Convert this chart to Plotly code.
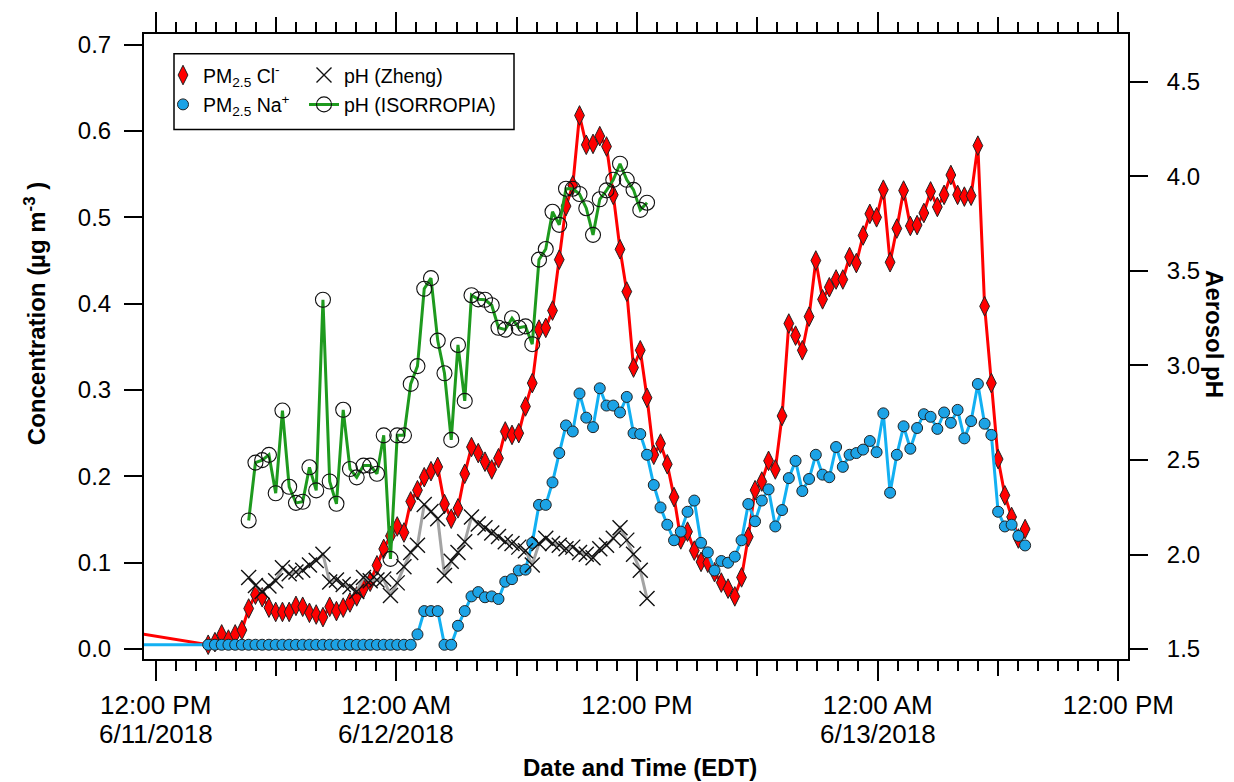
import pandas as pd
import plotly.graph_objects as go

# ---------------- data ----------------
t_start = "2018-06-11 14:37"
step_seconds = 1212          # ~20 min sampling
lead_time = "2018-06-11 08:00"   # earlier point left of the axis range
cl_lead = 0.030
na_lead = 0.005

cl = [0.005, 0.008, 0.017, 0.011, 0.017, 0.022, 0.047, 0.063, 0.060, 0.048,
      0.043, 0.043, 0.043, 0.050, 0.049, 0.042, 0.040, 0.037, 0.049, 0.044,
      0.048, 0.054, 0.061, 0.070, 0.078, 0.097, 0.116, 0.131, 0.142, 0.135,
      0.171, 0.184, 0.199, 0.206, 0.211, 0.168, 0.151, 0.163, 0.203, 0.234,
      0.227, 0.217, 0.208, 0.221, 0.252, 0.248, 0.250, 0.281, 0.308, 0.370,
      0.372, 0.392, 0.451, 0.513, 0.537, 0.618, 0.584, 0.585, 0.594, 0.582,
      0.526, 0.463, 0.414, 0.326, 0.346, 0.291, 0.225, 0.238, 0.214, 0.176,
      0.127, 0.136, 0.114, 0.101, 0.100, 0.089, 0.077, 0.070, 0.061, 0.083,
      0.130, 0.184, 0.194, 0.218, 0.208, 0.270, 0.377, 0.363, 0.346, 0.385,
      0.450, 0.405, 0.419, 0.428, 0.428, 0.454, 0.447, 0.479, 0.504, 0.500,
      0.532, 0.448, 0.487, 0.531, 0.490, 0.491, 0.505, 0.530, 0.512, 0.526,
      0.549, 0.526, 0.524, 0.525, 0.583, 0.397, 0.308, 0.220, 0.178, 0.153,
      0.128, 0.139]

na = [0.005, 0.005, 0.005, 0.005, 0.005, 0.005, 0.005, 0.005, 0.005, 0.005,
      0.005, 0.005, 0.005, 0.005, 0.005, 0.005, 0.005, 0.005, 0.005, 0.005,
      0.005, 0.005, 0.005, 0.005, 0.005, 0.005, 0.005, 0.005, 0.005, 0.005,
      0.005, 0.017, 0.044, 0.044, 0.044, 0.005, 0.005, 0.027, 0.044, 0.061,
      0.066, 0.060, 0.061, 0.058, 0.078, 0.081, 0.091, 0.092, 0.123, 0.167,
      0.167, 0.193, 0.227, 0.259, 0.252, 0.296, 0.268, 0.257, 0.302, 0.282,
      0.282, 0.274, 0.292, 0.250, 0.249, 0.225, 0.190, 0.164, 0.144, 0.126,
      0.136, 0.159, 0.172, 0.123, 0.112, 0.091, 0.102, 0.100, 0.107, 0.126,
      0.168, 0.148, 0.172, 0.185, 0.142, 0.161, 0.198, 0.218, 0.183, 0.197,
      0.225, 0.202, 0.199, 0.234, 0.211, 0.225, 0.227, 0.231, 0.241, 0.228,
      0.273, 0.181, 0.225, 0.258, 0.232, 0.256, 0.272, 0.269, 0.255, 0.274,
      0.262, 0.277, 0.244, 0.264, 0.307, 0.261, 0.248, 0.159, 0.142, 0.144,
      0.131, 0.120]

ph_first_index = 6   # pH series start at the 7th sample
ph_zheng = [1.879, 1.836, 1.804, 1.833, 1.861, 1.930, 1.898, 1.908, 1.917, 1.945,
            1.968, 2.001, 1.855, 1.865, 1.842, 1.829, 1.804, 1.879, 1.861, 1.865,
            1.870, 1.783, 1.850, 1.935, 2.011, 2.049, 2.264, 2.227, 2.189, 1.889,
            1.964, 2.011, 2.067, 2.198, 2.161, 2.142, 2.114, 2.095, 2.067, 2.058,
            2.039, 2.020, 1.945, 2.058, 2.086, 2.058, 2.049, 2.030, 2.039, 2.011,
            2.001, 1.983, 2.030, 2.049, 2.086, 2.142, 2.076, 2.001, 1.917, 1.767]

ph_isorropia = [2.180, 2.486, 2.499, 2.527, 2.324, 2.761, 2.358, 2.273, 2.279, 2.461,
                2.339, 3.347, 2.386, 2.268, 2.765, 2.452, 2.408, 2.470, 2.470, 2.427,
                2.630, 1.977, 2.630, 2.630, 2.902, 2.996, 3.405, 3.461, 3.131, 2.958,
                2.606, 3.108, 2.812, 3.371, 3.349, 3.347, 3.318, 3.199, 3.189, 3.249,
                3.199, 3.206, 3.112, 3.559, 3.615, 3.812, 3.743, 3.934, 3.934, 3.906,
                3.831, 3.690, 3.878, 3.925, 3.981, 4.066, 3.981, 3.928, 3.822, 3.860]

major_tick_times = ["2018-06-11 12:00", "2018-06-12 00:00", "2018-06-12 12:00",
                    "2018-06-13 00:00", "2018-06-13 12:00"]
major_tick_text = ["12:00 PM", "12:00 AM", "12:00 PM", "12:00 AM", "12:00 PM"]
date_tick_times = ["2018-06-11 12:00", "2018-06-12 00:00", "2018-06-13 00:00"]
date_tick_text = ["6/11/2018", "6/12/2018", "6/13/2018"]
mid_tick_times = ["2018-06-11 18:00", "2018-06-12 06:00",
                  "2018-06-12 18:00", "2018-06-13 06:00"]
conc_ticks = [0.0, 0.1, 0.2, 0.3, 0.4, 0.5, 0.6, 0.7]
ph_ticks = [1.5, 2.0, 2.5, 3.0, 3.5, 4.0, 4.5]

x_range = ["2018-06-11 11:25", "2018-06-13 12:29"]
y_range = [-0.0115, 0.7123]
y2_range = [1.4475, 4.752]

# ---------------- build ----------------
times = list(pd.date_range(t_start, periods=len(cl), freq=f"{step_seconds}s"))
t_ion = [pd.Timestamp(lead_time)] + times
t_ph = times[ph_first_index:ph_first_index + len(ph_zheng)]

FONT = "Liberation Sans, Arial, sans-serif"
RED = "#FF0000"
BLUE_LINE = "#12B0F2"
BLUE_FILL = "#1CA3E6"
GREEN = "#1E9A1E"
GRAY = "#A3A3A3"

m_cl = dict(symbol="diamond-tall", size=14, color=RED, line=dict(color="#222", width=1))
m_na = dict(symbol="circle", size=11, color=BLUE_FILL, line=dict(color="#222", width=1))
m_zh = dict(symbol="x-thin-open", size=15, color="#111", line=dict(color="#111", width=1.4))
m_is = dict(symbol="circle-open", size=15, color="#111", line=dict(color="#111", width=1.1))

fig = go.Figure()
fig.add_trace(go.Scatter(x=t_ion, y=[cl_lead] + cl, mode="lines+markers",
                         line=dict(color=RED, width=3), marker=m_cl, showlegend=False))
fig.add_trace(go.Scatter(x=t_ion, y=[na_lead] + na, mode="lines+markers",
                         line=dict(color=BLUE_LINE, width=3), marker=m_na, showlegend=False))
fig.add_trace(go.Scatter(x=t_ph, y=ph_zheng, mode="lines+markers", yaxis="y2",
                         line=dict(color=GRAY, width=3), marker=m_zh, showlegend=False))
fig.add_trace(go.Scatter(x=t_ph, y=ph_isorropia, mode="lines+markers", yaxis="y2",
                         line=dict(color=GREEN, width=3), marker=m_is, showlegend=False))
# empty trace so the overlaid 6-hour tick axis is drawn
fig.add_trace(go.Scatter(x=[None], y=[None], xaxis="x3", yaxis="y", mode="markers",
                         showlegend=False, hoverinfo="skip"))

# legend entries
fig.add_trace(go.Scatter(x=[None], y=[None], mode="markers", marker=m_cl,
                         name="PM<sub>2.5</sub> Cl<sup>-</sup>", legend="legend", legendgroup="a"))
fig.add_trace(go.Scatter(x=[None], y=[None], mode="markers", marker=m_na,
                         name="PM<sub>2.5</sub> Na<sup>+</sup>", legend="legend", legendgroup="b"))
fig.add_trace(go.Scatter(x=[None], y=[None], mode="markers", marker=m_zh, yaxis="y2",
                         name="pH (Zheng)", legend="legend2", legendgroup="c"))
fig.add_trace(go.Scatter(x=[None], y=[None], mode="lines+markers", yaxis="y2",
                         line=dict(color=GREEN, width=3), marker=m_is,
                         name="pH (ISORROPIA)", legend="legend2", legendgroup="d"))

W, H = 1234, 782
L, R, T, B = 144, 1128, 30, 659
pw, ph = R - L, B - T
def px(x):
    return (x - L) / pw
def py(y):
    return 1 - (y - T) / ph

tickfont = dict(family=FONT, size=24, color="black")
xtickfont = dict(family=FONT, size=26, color="black")
leg_common = dict(font=dict(family=FONT, size=19.5, color="black"), bgcolor="rgba(0,0,0,0)",
                  borderwidth=0, xanchor="left", yanchor="top", tracegroupgap=1,
                  itemwidth=30, orientation="v")

date_annotations = [
    dict(text=txt, xref="x", yref="paper", x=tv, y=py(734), xanchor="center",
         yanchor="middle", showarrow=False, font=xtickfont)
    for tv, txt in zip(date_tick_times, date_tick_text)
]

fig.update_layout(
    width=W, height=H,
    margin=dict(l=L, r=W - R, t=T, b=H - B, pad=0),
    paper_bgcolor="white", plot_bgcolor="white",
    font=dict(family=FONT, color="black"),
    xaxis=dict(type="date", range=x_range, showgrid=False, zeroline=False,
               showline=True, linecolor="black", linewidth=2, mirror="ticks",
               tickmode="array", tickvals=major_tick_times, ticktext=major_tick_text,
               ticks="outside", ticklen=20, tickwidth=2, tickcolor="black",
               tickfont=xtickfont, ticklabelstandoff=2,
               minor=dict(ticks="outside", dtick=3600000, tick0="2018-06-11 12:00",
                          ticklen=10, tickwidth=2, tickcolor="black", showgrid=False)),
    xaxis3=dict(type="date", range=x_range, overlaying="x", anchor="y", showgrid=False,
                zeroline=False, showline=False, mirror="ticks", tickmode="array",
                tickvals=mid_tick_times, ticks="outside", ticklen=16, tickwidth=2,
                tickcolor="black", showticklabels=False),
    yaxis=dict(range=y_range, showgrid=False, zeroline=False, showline=True,
               linecolor="black", linewidth=2, tickmode="array", tickvals=conc_ticks,
               tickformat=".1f", ticks="outside", ticklen=18, tickwidth=2,
               tickcolor="black", tickfont=tickfont, ticklabelstandoff=8),
    yaxis2=dict(range=y2_range, overlaying="y", side="right", anchor="x",
                showgrid=False, zeroline=False, showline=True, linecolor="black",
                linewidth=2, tickmode="array", tickvals=ph_ticks, tickformat=".1f",
                ticks="outside", ticklen=18, tickwidth=2, tickcolor="black",
                tickfont=tickfont, ticklabelstandoff=14),
    legend=dict(x=px(163), y=py(52), **leg_common),
    legend2=dict(x=px(304), y=py(52), **leg_common),
    shapes=[dict(type="rect", xref="paper", yref="paper", x0=px(174), x1=px(514),
                 y0=py(126), y1=py(50), line=dict(color="black", width=1.5),
                 fillcolor="rgba(0,0,0,0)")],
    annotations=date_annotations + [
        dict(text="Date and Time (EDT)", xref="paper", yref="paper", x=px(640), y=py(768),
             xanchor="center", yanchor="middle", showarrow=False,
             font=dict(family=FONT, size=24, color="black", weight="bold")),
        dict(text="Concentration (µg m<sup>-3</sup> )", xref="paper", yref="paper",
             x=px(35), y=py(312), xanchor="center", yanchor="middle", showarrow=False,
             textangle=-90, font=dict(family=FONT, size=24, color="black", weight="bold")),
        dict(text="Aerosol pH", xref="paper", yref="paper", x=px(1215), y=py(332),
             xanchor="center", yanchor="middle", showarrow=False, textangle=90,
             font=dict(family=FONT, size=24, color="black", weight="bold")),
    ],
)

fig.write_html("out.html")
